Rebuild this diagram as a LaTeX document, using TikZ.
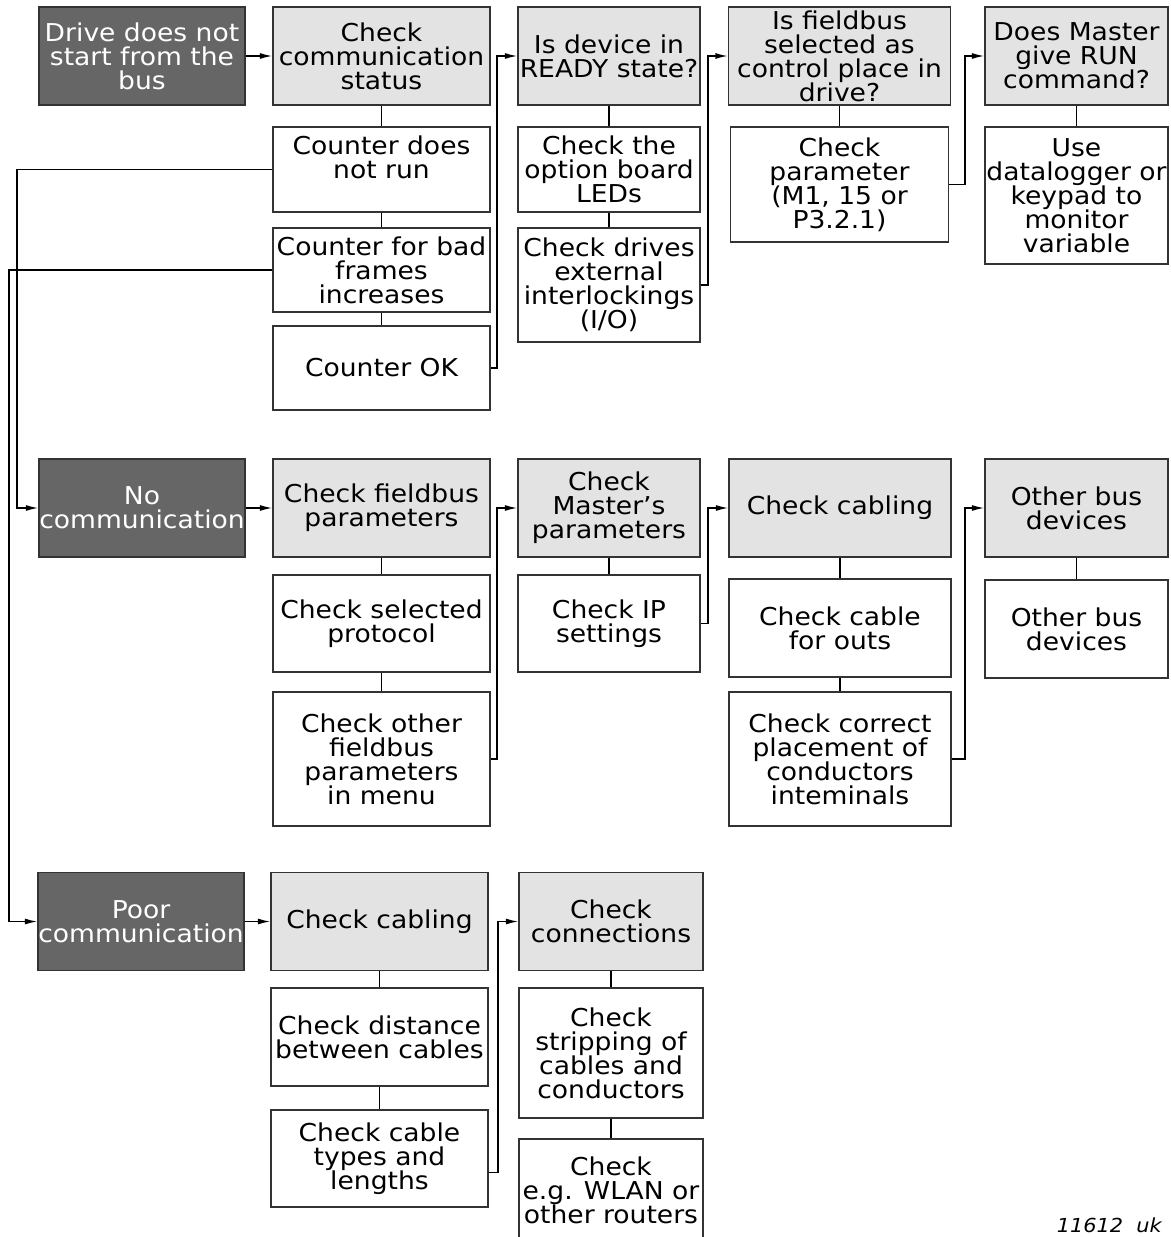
\documentclass[tikz,border=0pt]{standalone}
\usepackage{fontspec}
\setmainfont{DejaVu Sans}[FakeStretch=1.08]
\usepackage{xcolor}
\usepackage{tikz}
\usetikzlibrary{arrows.meta}
\definecolor{fault} {HTML}{666666}
\definecolor{stage} {HTML}{E3E3E3}
\definecolor{edge}  {HTML}{333333}

\begin{document}
\begin{tikzpicture}[x=0.02cm, y=-0.02cm,
  % One unit is one pixel of the 1170 x 1237 sheet, y running down.
  box/.style={draw=edge, line width=0.8pt, inner sep=0pt, align=center,
              minimum height=1.96cm, font=\fontsize{14}{13.6}\selectfont},
  faultbox/.style={box, fill=fault, text=white},
  stagebox/.style={box, fill=stage},
  checkbox/.style={box, fill=white},
  colA/.style={minimum width=4.12cm},
  colB/.style={minimum width=4.34cm},
  colC/.style={minimum width=3.64cm},
  colD/.style={minimum width=4.44cm},
  colE/.style={minimum width=3.66cm},
  link/.style={line width=0.8pt, color=black},
  conn/.style={-{Latex[length=2.5mm,width=1.2mm]}, line width=0.8pt, color=black},
  tag/.style={font=\fontsize{11}{11}\selectfont\itshape}
]
\useasboundingbox (0,0) rectangle (1170,1237);

% --- Row 1: drive does not start ---
\node[faultbox, colA] (drive) at (142,56) {Drive does not\\start from the\\bus};
\node[stagebox, colB] (comm) at (381.5,56) {Check\\communication\\status};
\node[checkbox, colB, minimum height=1.7cm] (cntnorun) at (381.5,169.5) {Counter does\\not run\\\mbox{}};
\node[checkbox, colB, minimum height=1.68cm] (cntbad) at (381.5,270) {Counter for bad\\frames\\increases};
\node[checkbox, colB, minimum height=1.68cm] (cntok) at (381.5,368) {Counter OK};

\node[stagebox, colC] (ready) at (609,56) {Is device in\\READY state?};
\node[checkbox, colC, minimum height=1.7cm] (leds) at (609,169.5) {Check the\\option board\\LEDs};
\node[checkbox, colC, minimum height=2.28cm] (interlock) at (609,285) {Check drives\\external\\interlockings\\(I/O)};

\node[stagebox, colD] (ctrlplace) at (839.5,56) {Is fieldbus\\selected as\\control place in\\drive?};
\node[checkbox, minimum width=4.36cm, minimum height=2.3cm] (param) at (839.5,184.5) {Check\\parameter\\(M1, 15 or\\P3.2.1)};

\node[stagebox, colE] (run) at (1076.5,56) {Does Master\\give RUN\\command?};
\node[checkbox, colE, minimum height=2.74cm] (datalog) at (1076.5,195.5) {Use\\datalogger or\\keypad to\\monitor\\variable};

% --- Row 2: no communication ---
\node[faultbox, colA] (nocomm) at (142,508) {No\\communication};
\node[stagebox, colB] (fbpar) at (381.5,508) {Check fieldbus\\parameters};
\node[checkbox, colB, minimum height=1.94cm] (protocol) at (381.5,623.5) {Check selected\\protocol};
\node[checkbox, colB, minimum height=2.68cm] (otherpar) at (381.5,759) {Check other\\fieldbus\\parameters\\in menu};

\node[stagebox, colC] (master) at (609,508) {Check\\Master’s\\parameters};
\node[checkbox, colC, minimum height=1.94cm] (ip) at (609,623.5) {Check IP\\settings};

\node[stagebox, colD] (cabling) at (840,508) {Check cabling};
\node[checkbox, colD, minimum height=1.96cm] (outs) at (840,628) {Check cable\\for outs};
\node[checkbox, colD, minimum height=2.68cm] (placement) at (840,759) {Check correct\\placement of\\conductors\\inteminals};

\node[stagebox, colE] (busdev) at (1076.5,508) {Other bus\\devices};
\node[checkbox, colE, minimum height=1.96cm] (busdevsub) at (1076.5,629) {Other bus\\devices};

% --- Row 3: poor communication ---
\node[faultbox, colA] (poor) at (141,921.5) {Poor\\communication};
\node[stagebox, colB] (cablingp) at (379.5,921.5) {Check cabling};
\node[checkbox, colB, minimum height=1.96cm] (distance) at (379.5,1037) {Check distance\\between cables};
\node[checkbox, colB, minimum height=1.94cm] (types) at (379.5,1158.5) {Check cable\\types and\\lengths};

\node[stagebox, minimum width=3.68cm] (connect) at (611,921.5) {Check\\connections};
\node[checkbox, minimum width=3.68cm, minimum height=2.6cm] (strip) at (611,1053) {Check\\stripping of\\cables and\\conductors};
\node[checkbox, minimum width=3.68cm, minimum height=2.04cm] (wlan) at (611,1190) {Check\\e.g. WLAN or\\other routers};

\node[tag, anchor=base east] (code) at (1168,1232) {11612\ \ uk};

% --- Bends of the connectors ---
\coordinate (left1) at (17,300);
\coordinate (left2) at (9,600);
\coordinate (bendA) at (497,200);
\coordinate (bendB) at (708,150);
\coordinate (bendC) at (965,120);
\coordinate (bendD) at (497,600);
\coordinate (bendE) at (708,560);
\coordinate (bendF) at (965,600);
\coordinate (bendG) at (498,1000);

% --- Column links ---
\draw[link] (comm) -- (cntnorun);
\draw[link] (cntnorun) -- (cntbad);
\draw[link] (cntbad) -- (cntok);
\draw[link] (ready) -- (leds);
\draw[link] (leds) -- (interlock);
\draw[link] (ctrlplace) -- (param);
\draw[link] (run) -- (datalog);
\draw[link] (fbpar) -- (protocol);
\draw[link] (protocol) -- (otherpar);
\draw[link] (master) -- (ip);
\draw[link] (cabling) -- (outs);
\draw[link] (outs) -- (placement);
\draw[link] (busdev) -- (busdevsub);
\draw[link] (cablingp) -- (distance);
\draw[link] (distance) -- (types);
\draw[link] (connect) -- (strip);
\draw[link] (strip) -- (wlan);

% --- Arrows along the rows ---
\draw[conn] (drive) -- (comm);
\draw[conn] (nocomm) -- (fbpar);
\draw[conn] (poor) -- (cablingp);
\draw[conn] (cntok.east) -| (bendA) |- (ready.west);
\draw[conn] (interlock.east) -| (bendB) |- (ctrlplace.west);
\draw[conn] (param.east) -| (bendC) |- (run.west);
\draw[conn] (otherpar.east) -| (bendD) |- (master.west);
\draw[conn] (ip.east) -| (bendE) |- (cabling.west);
\draw[conn] (placement.east) -| (bendF) |- (busdev.west);
\draw[conn] ([yshift=-8pt]types.east) -| (bendG) |- (connect.west);

% --- Arrows down the left side ---
\draw[conn] (cntnorun.west) -| (left1) |- (nocomm.west);
\draw[conn] (cntbad.west) -| (left2) |- (poor.west);

\end{tikzpicture}
\end{document}
